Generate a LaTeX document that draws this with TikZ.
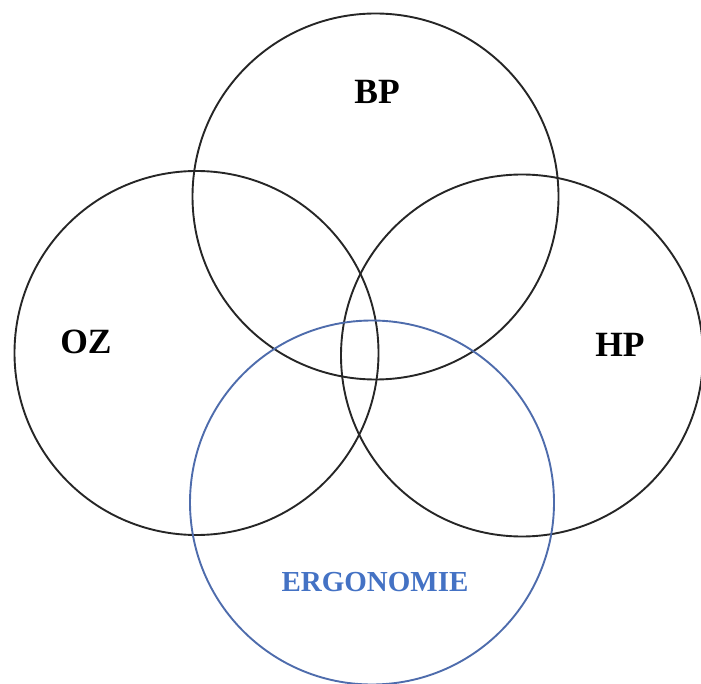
\documentclass[tikz,border=0pt]{standalone}
\usepackage{fontspec}
\setmainfont{Liberation Serif}
\usepackage{xcolor}
\usetikzlibrary{positioning}

\definecolor{ergoblue}{RGB}{68,114,196}
\definecolor{ergoline}{RGB}{78,108,172}

\begin{document}
\begin{tikzpicture}[
    x=1pt, y=-1pt,
    % Styles
    set/.style={circle, draw=black!85, line width=1.9pt, inner sep=0pt, minimum size=#1},
    ergo/.style={circle, draw=ergoline, line width=1.9pt, inner sep=0pt, minimum size=#1},
    setlabel/.style={font=\bfseries\fontsize{35.5}{40}\selectfont, inner sep=0pt},
    ergolabel/.style={font=\bfseries\fontsize{29}{34}\selectfont, text=ergoblue, inner sep=0pt}
]
\useasboundingbox (0,0) rectangle (701,684);

% --- Sets ---
\node[set=366pt] (bp) at (375.5,196.5) {};
\node[set=364pt] (oz) at (196.5,353) {};
\node[set=362pt] (hp) at (522,355.5) {};
\node[ergo=364pt] (ergonomie) at (372,502.5) {};

% --- Labels ---
\node[setlabel] (bp_label) at (377,92) {BP};
\node[setlabel] (oz_label) at (86,342) {OZ};
\node[setlabel] (hp_label) at (620,345) {HP};
\node[ergolabel] (ergo_label) at (375,582) {ERGONOMIE};

\end{tikzpicture}
\end{document}
